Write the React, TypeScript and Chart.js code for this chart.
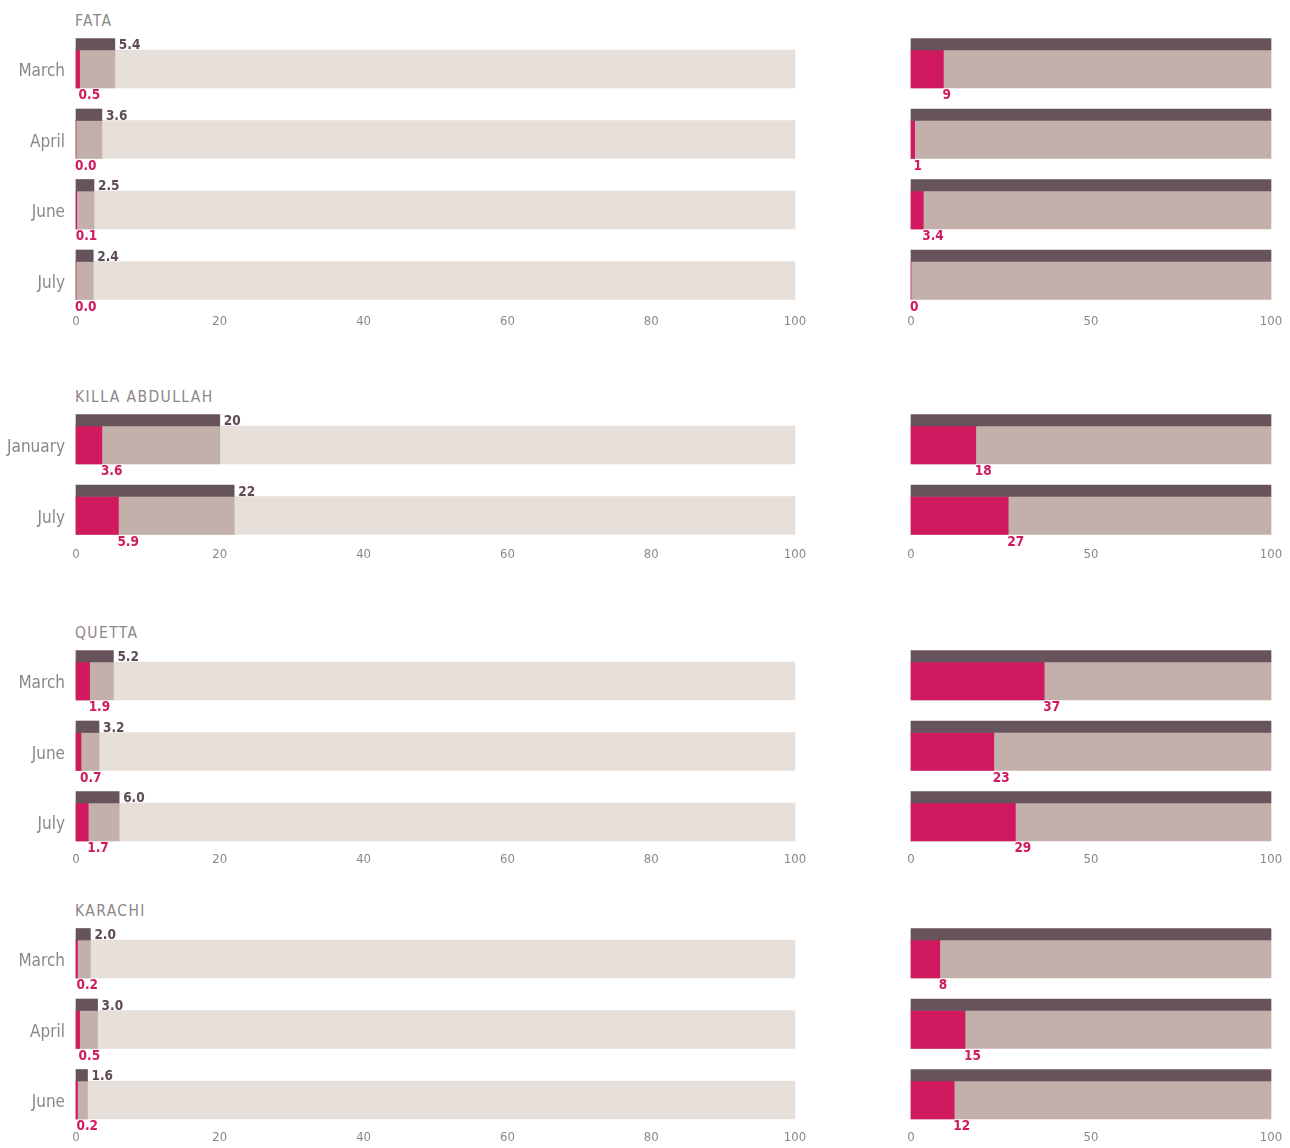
import React, { useEffect, useRef } from "react";
import { Chart, registerables } from "chart.js";
Chart.register(...registerables);

// ---------- DATA ----------
const groupTitles = ["FATA", "KILLA ABDULLAH", "QUETTA", "KARACHI"];

const fataMonths = ["March", "April", "June", "July"];
const fataTotal = [5.4, 3.6, 2.5, 2.4];
const fataPart = [0.5, 0.0, 0.1, 0.0];
const fataShare = [9, 1, 3.4, 0];

const killaMonths = ["January", "July"];
const killaTotal = [20, 22];
const killaPart = [3.6, 5.9];
const killaShare = [18, 27];

const quettaMonths = ["March", "June", "July"];
const quettaTotal = [5.2, 3.2, 6.0];
const quettaPart = [1.9, 0.7, 1.7];
const quettaShare = [37, 23, 29];

const karachiMonths = ["March", "April", "June"];
const karachiTotal = [2.0, 3.0, 1.6];
const karachiPart = [0.2, 0.5, 0.2];
const karachiShare = [8, 15, 12];

const leftTicks = [0, 20, 40, 60, 80, 100];
const rightTicks = [0, 50, 100];
const scaleMax = 100;

// ---------- STYLE ----------
const DARK = "#67535c";
const MID = "#c4b0aa";
const LIGHT = "#e6dfda";
const MAGENTA = "#d0195e";
const GRAY = "#8d8689";
const DARK_TEXT = "#5f4b55";
const COND = "'DejaVu Sans Condensed', 'DejaVu Sans', sans-serif";

const ROW_PITCH = 70.5;
const DARK_T = 11.5;
const MAIN_T = 38;
const AXIS_H = 40;

const groupBarTops = [50, 426, 662, 940];
const groupTickPad = [17, 15, 14, 14];

type PanelProps = {
  side: "left" | "right";
  labels: string[];
  dark: number[];
  part: number[];
  mid: number[];
  light: number[] | null;
  ticks: number[];
  firstBarTop: number;
  tickPad: number;
  darkFmt: ((v: number) => string) | null;
  partFmt: (v: number) => string;
};

function Panel(p: PanelProps) {
  const ref = useRef<HTMLCanvasElement | null>(null);
  const n = p.labels.length;
  const areaTop = p.firstBarTop - ROW_PITCH / 2;
  const canvasTop = Math.floor(areaTop) - 12;
  const padTop = areaTop - canvasTop;
  const areaH = n * ROW_PITCH;
  const canvasH = Math.ceil(padTop + areaH + AXIS_H);
  const xAxisH = canvasH - padTop - areaH;
  const isLeft = p.side === "left";
  const canvasLeft = isLeft ? 0 : 880;
  const canvasW = isLeft ? 830 : 410;
  const padLeft = isLeft ? 0 : 31;
  const padRight = isLeft ? 830 - 795 : 1290 - 1271;

  useEffect(() => {
    if (!ref.current) return;
    const datasets: any[] = [
      { data: p.dark, backgroundColor: DARK, stack: "top", barThickness: DARK_T },
      { data: p.part, backgroundColor: MAGENTA, stack: "main", barThickness: MAIN_T },
      { data: p.mid, backgroundColor: MID, stack: "main", barThickness: MAIN_T },
    ];
    if (p.light) datasets.push({ data: p.light, backgroundColor: LIGHT, stack: "main", barThickness: MAIN_T });
    datasets.forEach((d) => {
      d.borderWidth = 0;
      d.clip = false;
    });

    const labelPlugin = {
      id: "valueLabels",
      afterDatasetsDraw(chart: any) {
        const ctx = chart.ctx;
        ctx.save();
        ctx.textBaseline = "middle";
        ctx.textAlign = "left";
        ctx.font = "bold 13.5px " + COND;
        if (p.darkFmt) {
          const m0 = chart.getDatasetMeta(0);
          ctx.fillStyle = DARK_TEXT;
          m0.data.forEach((el: any, i: number) => {
            ctx.fillText(p.darkFmt!(p.dark[i]), el.x + 4, el.y + 1.5);
          });
        }
        const m1 = chart.getDatasetMeta(1);
        ctx.fillStyle = MAGENTA;
        m1.data.forEach((el: any, i: number) => {
          ctx.fillText(p.partFmt(p.part[i]), el.x - 1, el.y + MAIN_T / 2 + 7.5);
        });
        ctx.restore();
      },
    };

    const chart = new Chart(ref.current, {
      type: "bar",
      data: { labels: p.labels, datasets },
      plugins: [labelPlugin],
      options: {
        indexAxis: "y",
        responsive: false,
        animation: false,
        events: [],
        layout: { padding: { top: padTop, left: padLeft, right: padRight, bottom: 0 } },
        plugins: { legend: { display: false }, tooltip: { enabled: false }, title: { display: false } },
        scales: {
          y: {
            type: "category",
            display: isLeft,
            grid: { display: false, drawTicks: false },
            border: { display: false },
            ticks: {
              color: GRAY,
              font: { family: COND, size: 17 },
              padding: 11,
              labelOffset: MAIN_T / 2 + 3,
            },
            afterFit: (s: any) => {
              if (isLeft) s.width = 76;
              s.paddingTop = 0;
              s.paddingBottom = 0;
            },
          },
          x: {
            type: "linear",
            min: 0,
            max: scaleMax,
            stacked: false,
            grid: { display: false, drawTicks: false },
            border: { display: false },
            ticks: {
              color: GRAY,
              font: { family: COND, size: 13 },
              padding: p.tickPad,
              maxRotation: 0,
            },
            afterBuildTicks: (s: any) => {
              s.ticks = p.ticks.map((v) => ({ value: v }));
            },
            afterFit: (s: any) => {
              s.height = xAxisH;
              s.paddingLeft = 0;
              s.paddingRight = 0;
            },
          },
        },
      } as any,
    });
    return () => chart.destroy();
  }, []);

  return (
    <canvas
      ref={ref}
      width={canvasW}
      height={canvasH}
      style={{ position: "absolute", left: canvasLeft, top: canvasTop, width: canvasW, height: canvasH }}
    />
  );
}

const fmtLeft = (v: number) => (v >= 10 ? v.toFixed(0) : v.toFixed(1));
const fmtRight = (v: number) => (Number.isInteger(v) ? String(v) : v.toFixed(1));

export default function App() {
  const groups = [
    { labels: fataMonths, total: fataTotal, part: fataPart, share: fataShare },
    { labels: killaMonths, total: killaTotal, part: killaPart, share: killaShare },
    { labels: quettaMonths, total: quettaTotal, part: quettaPart, share: quettaShare },
    { labels: karachiMonths, total: karachiTotal, part: karachiPart, share: karachiShare },
  ];
  return (
    <div style={{ position: "absolute", left: 0, top: 0, width: 1290, height: 1148, background: "#fff", overflow: "hidden" }}>
      {groups.map((g, gi) => {
        const full = g.labels.map(() => scaleMax);
        return (
          <React.Fragment key={gi}>
            <div
              style={{
                position: "absolute",
                left: 75,
                top: groupBarTops[gi] - 37,
                fontFamily: COND,
                fontSize: 15.5,
                lineHeight: "16px",
                letterSpacing: 1.4,
                color: GRAY,
                whiteSpace: "nowrap",
              }}
            >
              {groupTitles[gi]}
            </div>
            <Panel
              side="left"
              labels={g.labels}
              dark={g.total}
              part={g.part}
              mid={g.total}
              light={full}
              ticks={leftTicks}
              firstBarTop={groupBarTops[gi]}
              tickPad={groupTickPad[gi]}
              darkFmt={fmtLeft}
              partFmt={fmtLeft}
            />
            <Panel
              side="right"
              labels={g.labels}
              dark={full}
              part={g.share}
              mid={full}
              light={null}
              ticks={rightTicks}
              firstBarTop={groupBarTops[gi]}
              tickPad={groupTickPad[gi]}
              darkFmt={null}
              partFmt={fmtRight}
            />
          </React.Fragment>
        );
      })}
    </div>
  );
}
